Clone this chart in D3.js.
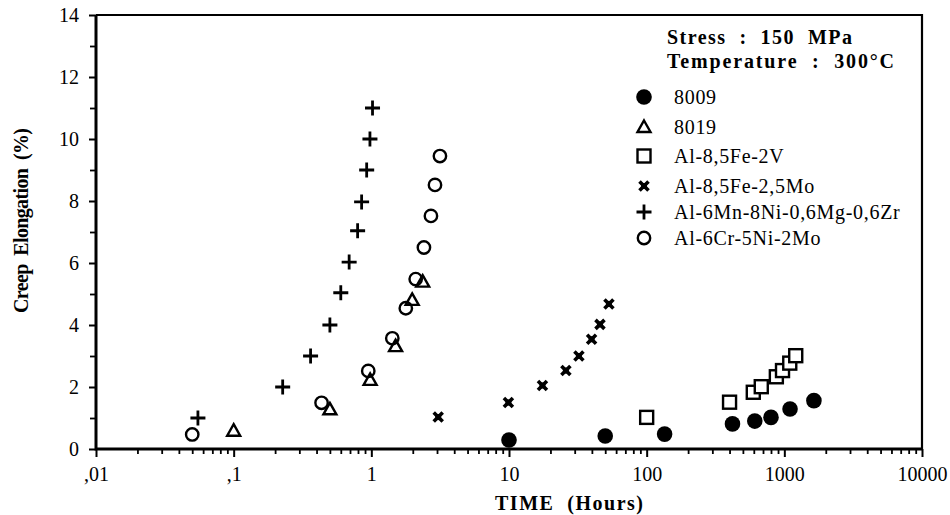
<!DOCTYPE html>
<html>
<head>
<meta charset="utf-8">
<style>
  body { margin: 0; background: #fff; }
  svg text { font-family: "Liberation Serif", "Times New Roman", serif; fill: #000; }
</style>
<script src="https://cdn.jsdelivr.net/npm/d3@7"></script>
</head>
<body>
<svg width="950" height="515"></svg>
<script>
// values: time in hours, creep elongation in %
var s8009 = [[10, 0.29], [50, 0.42], [135, 0.48], [420, 0.81], [610, 0.9], [800, 1.02], [1100, 1.29], [1640, 1.56]];
var s8019 = [[0.1, 0.59], [0.5, 1.28], [0.98, 2.23], [1.5, 3.32], [1.98, 4.81], [2.36, 5.4]];
var sFeV = [[100, 1.02], [400, 1.51], [595, 1.83], [680, 2.01], [875, 2.33], [970, 2.53], [1095, 2.77], [1210, 3.01]];
var sFeMo = [[3.06, 1.03], [9.9, 1.5], [17.5, 2.05], [25.9, 2.53], [32.2, 3.0], [39.8, 3.54], [45.8, 4.02], [53.2, 4.68]];
var sMnNi = [[0.055, 1.0], [0.227, 2.0], [0.362, 3.0], [0.5, 4.0], [0.6, 5.04], [0.69, 6.03], [0.795, 7.04], [0.85, 7.97], [0.925, 9.0], [0.977, 10.0], [1.02, 11.0]];
var sCrNi = [[0.05, 0.47], [0.435, 1.49], [0.95, 2.52], [1.42, 3.57], [1.78, 4.54], [2.1, 5.48], [2.41, 6.5], [2.71, 7.52], [2.9, 8.52], [3.15, 9.45]];

var seriesNames = ["8009", "8019", "Al-8,5Fe-2V", "Al-8,5Fe-2,5Mo", "Al-6Mn-8Ni-0,6Mg-0,6Zr", "Al-6Cr-5Ni-2Mo"];
var seriesData = [s8009, s8019, sFeV, sFeMo, sMnNi, sCrNi];
var seriesMarks = ["dot", "tri", "square", "x", "plus", "ring"];

var xTicks = [0.01, 0.1, 1, 10, 100, 1000, 10000];
var xTickLabels = [",01", ",1", "1", "10", "100", "1000", "10000"];
var yTicks = [0, 2, 4, 6, 8, 10, 12, 14];

var svg = d3.select("svg"),
    plotL = 96, plotR = 922, plotT = 15, plotB = 449;

var x = d3.scaleLog().domain([0.01, 10000]).range([plotL, plotR]);
var y = d3.scaleLinear().domain([0, 14]).range([plotB, plotT]);

// minor ticks on the log axis, 2..9 in every decade
var xMinor = [];
for (var e = -2; e < 4; e++) {
  for (var k = 2; k <= 9; k++) xMinor.push(k * Math.pow(10, e));
}

svg.append("g")
    .attr("transform", "translate(0," + plotB + ")")
    .call(d3.axisBottom(x).tickValues(xMinor).tickSize(5).tickFormat(""))
    .call(function(g) { g.select(".domain").remove(); g.selectAll("line").attr("stroke-width", 1.8); });

svg.append("g")
    .attr("transform", "translate(0," + plotB + ")")
    .call(d3.axisBottom(x).tickValues(xTicks).tickSize(8).tickPadding(10)
      .tickFormat(function(d, i) { return xTickLabels[i]; }))
    .call(function(g) {
      g.select(".domain").remove();
      g.selectAll("line").attr("stroke-width", 2);
      g.selectAll("text").attr("font-size", 20).attr("font-family", "Liberation Serif, serif");
    });

svg.append("g")
    .attr("transform", "translate(" + plotL + ",0)")
    .call(d3.axisLeft(y).tickValues(d3.range(1, 14, 2)).tickSize(6).tickFormat(""))
    .call(function(g) { g.select(".domain").remove(); g.selectAll("line").attr("stroke-width", 1.8); });

svg.append("g")
    .attr("transform", "translate(" + plotL + ",0)")
    .call(d3.axisLeft(y).tickValues(yTicks).tickSize(7).tickPadding(10))
    .call(function(g) {
      g.select(".domain").remove();
      g.selectAll("line").attr("stroke-width", 2);
      g.selectAll("text").attr("font-size", 20).attr("font-family", "Liberation Serif, serif");
    });

// frame
svg.append("path")
    .attr("d", "M" + plotL + "," + plotT + "H" + plotR + "V" + plotB)
    .attr("fill", "none")
    .attr("stroke", "#000")
    .attr("stroke-width", 2.2);
svg.append("path")
    .attr("d", "M" + plotL + "," + plotT + "V" + plotB + "H" + plotR)
    .attr("fill", "none")
    .attr("stroke", "#000")
    .attr("stroke-width", 3);

// axis titles
svg.append("text")
    .attr("x", 495)
    .attr("y", 510)
    .attr("font-size", 20)
    .attr("font-weight", "bold")
    .attr("textLength", 148)
    .attr("lengthAdjust", "spacing")
    .attr("xml:space", "preserve")
    .text("TIME  (Hours)");

svg.append("text")
    .attr("transform", "translate(28,313) rotate(-90)")
    .attr("font-size", 20)
    .attr("font-weight", "bold")
    .attr("textLength", 185)
    .attr("lengthAdjust", "spacing")
    .attr("xml:space", "preserve")
    .text("Creep  Elongation  (%)");

function drawMark(g, type) {
  if (type === "dot") {
    g.append("circle").attr("r", 7.8).attr("fill", "#000");
  } else if (type === "ring") {
    g.append("circle").attr("r", 6.2).attr("fill", "none").attr("stroke", "#000").attr("stroke-width", 2.4);
  } else if (type === "square") {
    g.append("rect").attr("x", -6.5).attr("y", -6.5).attr("width", 13).attr("height", 13)
      .attr("fill", "#fff").attr("stroke", "#000").attr("stroke-width", 2.4);
  } else if (type === "tri") {
    g.append("path").attr("d", "M0,-6.5L6.5,5L-6.5,5Z")
      .attr("fill", "#fff").attr("stroke", "#000").attr("stroke-width", 2.4);
  } else if (type === "plus") {
    g.append("path").attr("d", "M-7.5,0H7.5M0,-7.5V7.5").attr("stroke", "#000").attr("stroke-width", 2.8);
  } else if (type === "x") {
    g.append("path").attr("d", "M-4.5,-4.5L4.5,4.5M4.5,-4.5L-4.5,4.5").attr("stroke", "#000").attr("stroke-width", 3.6);
    g.append("rect").attr("x", -3).attr("y", -3).attr("width", 6).attr("height", 6).attr("fill", "#000");
  }
}

// draw series, later ones on top like the scan
seriesData.forEach(function(data, i) {
  svg.append("g").selectAll("g")
    .data(data)
    .enter().append("g")
      .attr("transform", function(d) { return "translate(" + x(d[0]) + "," + y(d[1]) + ")"; })
      .each(function() { drawMark(d3.select(this), seriesMarks[i]); });
});

// legend
var legend = svg.append("g");
legend.append("text").attr("x", 667).attr("y", 44).attr("font-size", 20).attr("font-weight", "bold")
    .attr("textLength", 185).attr("lengthAdjust", "spacing")
    .attr("xml:space", "preserve").text("Stress  :  150  MPa");
legend.append("text").attr("x", 667).attr("y", 68).attr("font-size", 20).attr("font-weight", "bold")
    .attr("textLength", 227).attr("lengthAdjust", "spacing")
    .attr("xml:space", "preserve").text("Temperature  :  300°C");

var legendY = [97, 127, 156, 186, 212, 238];
seriesNames.forEach(function(name, i) {
  var row = legend.append("g").attr("transform", "translate(0," + legendY[i] + ")");
  var m = row.append("g").attr("transform", "translate(644,0)");
  drawMark(m, seriesMarks[i]);
  row.append("text").attr("x", 674).attr("y", 7).attr("font-size", 20)
      .attr("letter-spacing", 0.7).text(name);
});
</script>
</body>
</html>
